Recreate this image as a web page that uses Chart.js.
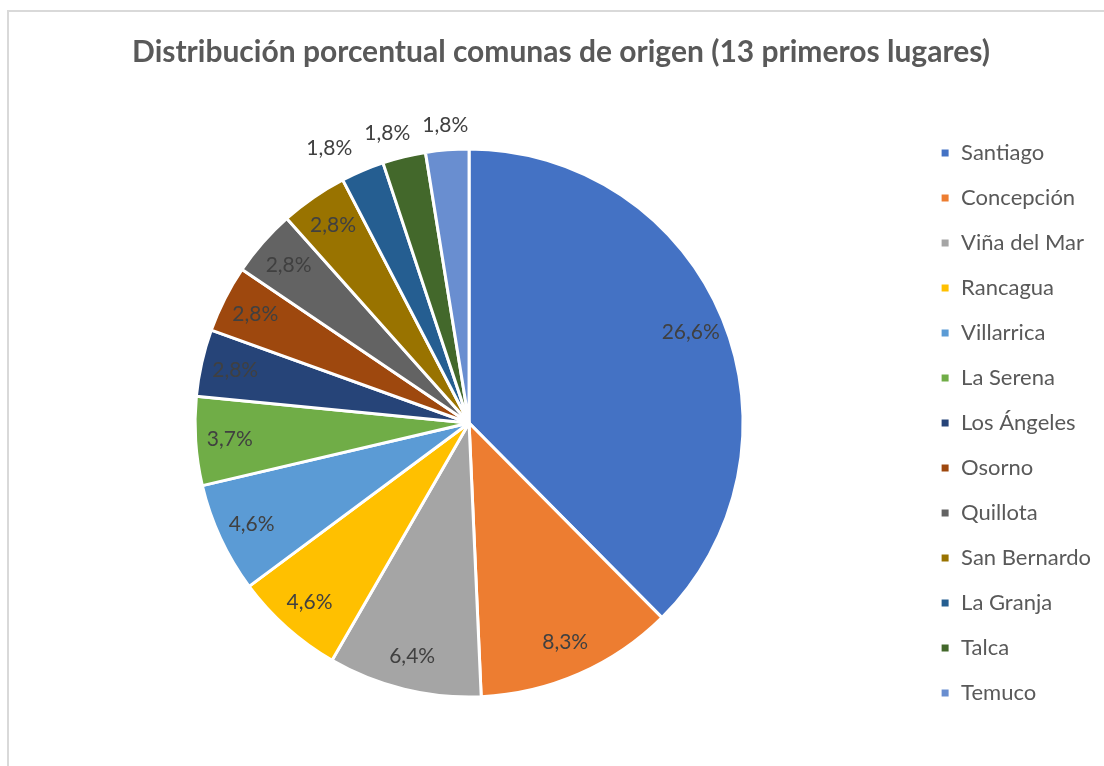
<!DOCTYPE html>
<html>
<head>
<meta charset="utf-8">
<title>Distribución porcentual comunas de origen</title>
<script src="https://cdn.jsdelivr.net/npm/chart.js"></script>
<style>
  html, body { margin: 0; padding: 0; background: #ffffff; }
  body { width: 1104px; height: 766px; position: relative; overflow: hidden; }
  .frame { position: absolute; left: 7px; top: 10px; width: 1200px; height: 900px;
           border-left: 2px solid #d9d9d9; border-top: 2px solid #d9d9d9; }
  #pie { position: absolute; left: 0; top: 0; }
</style>
</head>
<body>
<div class="frame"></div>
<canvas id="pie" width="1104" height="766"></canvas>
<script>
// Chart values
const comunas = ['Santiago', 'Concepción', 'Viña del Mar', 'Rancagua', 'Villarrica', 'La Serena',
  'Los Ángeles', 'Osorno', 'Quillota', 'San Bernardo', 'La Granja', 'Talca', 'Temuco'];
const porcentajes = [26.6, 8.3, 6.4, 4.6, 4.6, 3.7, 2.8, 2.8, 2.8, 2.8, 1.8, 1.8, 1.8];
const colores = ['#4472C4', '#ED7D31', '#A5A5A5', '#FFC000', '#5B9BD5', '#70AD47',
  '#264478', '#9E480E', '#636363', '#997300', '#255E91', '#43682B', '#698ED0'];

const FONT = 'Lato, "Open Sans", sans-serif';

// Percentage labels: inside the slice, or just outside for the small ones
const sliceLabels = {
  id: 'sliceLabels',
  afterDatasetsDraw(chart) {
    const ctx = chart.ctx;
    const meta = chart.getDatasetMeta(0);
    ctx.save();
    ctx.font = '21px ' + FONT;
    ctx.fillStyle = '#404040';
    ctx.textAlign = 'center';
    ctx.textBaseline = 'middle';
    let prevLeft = Infinity;
    // go backwards so the small outside labels can be pushed apart
    for (let i = meta.data.length - 1; i >= 0; i--) {
      const p = meta.data[i].getProps(['x', 'y', 'startAngle', 'endAngle', 'outerRadius']);
      const mid = (p.startAngle + p.endAngle) / 2;
      const v = porcentajes[i];
      const txt = v.toFixed(1).replace('.', ',') + '%';
      const outside = v < 2;
      const r = outside ? p.outerRadius * 1.09 : p.outerRadius * 0.875;
      let x = p.x + Math.cos(mid) * r;
      const y = p.y + Math.sin(mid) * r;
      if (outside) {
        const w = ctx.measureText(txt).width;
        if (x + w / 2 > prevLeft - 12) x = prevLeft - 12 - w / 2;
        prevLeft = x - w / 2;
      }
      ctx.fillText(txt, x, y);
    }
    ctx.restore();
  }
};

new Chart(document.getElementById('pie'), {
  type: 'pie',
  data: {
    labels: comunas,
    datasets: [{
      data: porcentajes,
      backgroundColor: colores,
      borderColor: '#ffffff',
      borderWidth: 3,
      radius: 274
    }]
  },
  options: {
    responsive: false,
    animation: false,
    layout: { padding: { left: 21, right: 3, top: 0, bottom: 23 } },
    plugins: {
      title: {
        display: true,
        text: 'Distribución porcentual comunas de origen (13 primeros lugares)',
        color: '#595959',
        font: { family: FONT, size: 30, weight: 'bold', lineHeight: 1.2 },
        padding: { top: 34, bottom: 33 }
      },
      legend: {
        position: 'right',
        fullSize: false,
        labels: {
          color: '#595959',
          font: { family: FONT, size: 22 },
          boxWidth: 10,
          boxHeight: 10,
          padding: 23
        }
      },
      tooltip: { enabled: false }
    }
  },
  plugins: [sliceLabels]
});
</script>
</body>
</html>
